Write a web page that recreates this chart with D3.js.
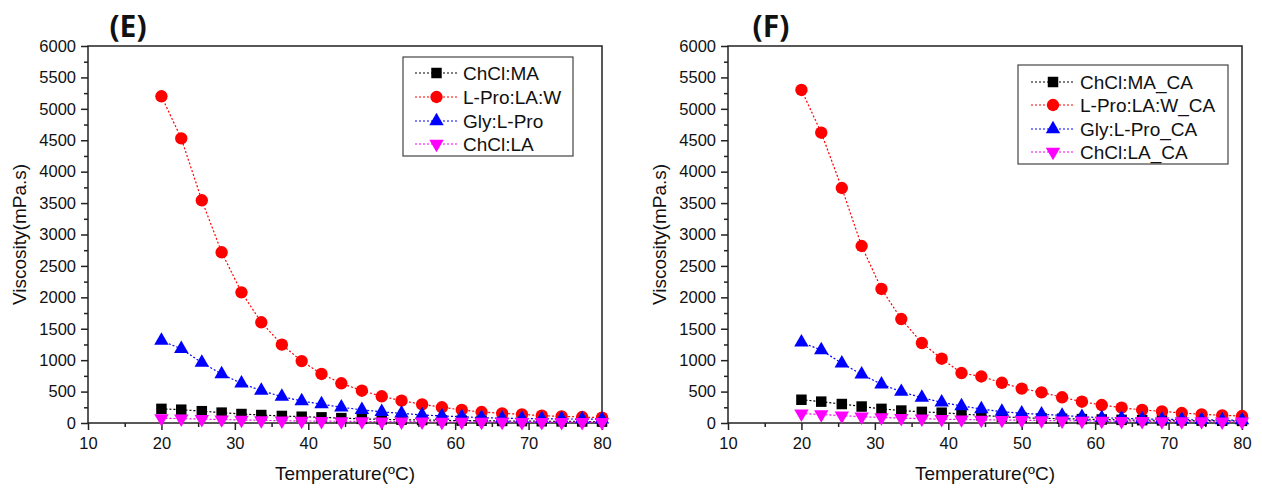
<!DOCTYPE html>
<html>
<head>
<meta charset="utf-8">
<script src="https://cdn.jsdelivr.net/npm/d3@7"></script>
<style>
  body { margin: 0; background: #fff; }
  text { font-family: Arial, "Liberation Sans", sans-serif; fill: #111; }
  .title { font-family: "Open Sans", sans-serif; font-weight: 700; }
</style>
</head>
<body>
<svg id="chart" width="1262" height="491"></svg>
<script>
// temperatures (ºC), same for every series
var temps = [20, 22.7, 25.5, 28.2, 30.9, 33.6, 36.4, 39.1, 41.8, 44.5, 47.3, 50,
             52.7, 55.5, 58.2, 60.9, 63.6, 66.4, 69.1, 71.8, 74.5, 77.3, 80];

// panel (E)
var chclMA   = [225, 212, 188, 165, 143, 127, 112, 100, 90, 78, 66, 58, 52, 47, 42, 38, 35, 32, 30, 28, 26, 24, 22];
var lproLAW  = [5200, 4530, 3545, 2717, 2080, 1603, 1247, 985, 780, 632, 514, 425, 355, 297, 250, 207, 175, 154, 138, 116, 106, 95, 84];
var glyLPro  = [1310, 1180, 960, 780, 630, 515, 420, 350, 300, 250, 210, 178, 154, 128, 112, 100, 85, 76, 72, 68, 65, 62, 60];
var chclLA   = [75, 70, 62, 55, 48, 42, 37, 33, 30, 27, 25, 23, 21, 20, 19, 18, 17, 16, 15, 15, 14, 14, 13];

// panel (F)
var chclMA_CA  = [370, 340, 302, 262, 225, 198, 177, 164, 143, 122, 100, 84, 75, 68, 62, 56, 50, 45, 42, 40, 38, 36, 34];
var lproLAW_CA = [5300, 4620, 3740, 2817, 2133, 1655, 1273, 1023, 795, 740, 640, 548, 488, 409, 339, 286, 244, 207, 186, 159, 138, 122, 111];
var glyLPro_CA = [1285, 1160, 950, 775, 616, 498, 403, 329, 271, 223, 180, 155, 138, 120, 100, 84, 75, 64, 59, 54, 50, 47, 45];
var chclLA_CA  = [150, 135, 118, 100, 88, 78, 68, 60, 55, 50, 47, 44, 40, 37, 34, 32, 30, 28, 26, 25, 24, 23, 22];

var xTicks = [10, 20, 30, 40, 50, 60, 70, 80];
var yTicks = d3.range(0, 6001, 500);

var styles = [
  {color: "#000000", symbol: d3.symbolSquare, size: 110, rot: 0},
  {color: "#ff0000", symbol: d3.symbolCircle, size: 120, rot: 0},
  {color: "#0000ff", symbol: d3.symbolTriangle, size: 90, rot: 0},
  {color: "#ff00ff", symbol: d3.symbolTriangle, size: 90, rot: 180}
];

var panels = [
  {title: "(E)", left: 88, right: 602, titleX: 128,
   legend: {x: 403, y: 57, w: 170, h: 99, lineX0: 415, lineX1: 458, textX: 463, rowY: [73, 97, 121, 144]},
   series: [
     {name: "ChCl:MA", values: chclMA},
     {name: "L-Pro:LA:W", values: lproLAW},
     {name: "Gly:L-Pro", values: glyLPro},
     {name: "ChCl:LA", values: chclLA}]},
  {title: "(F)", left: 728, right: 1242, titleX: 771,
   legend: {x: 1018, y: 65, w: 210, h: 99, lineX0: 1031, lineX1: 1075, textX: 1080, rowY: [82, 105, 129, 152]},
   series: [
     {name: "ChCl:MA_CA", values: chclMA_CA},
     {name: "L-Pro:LA:W_CA", values: lproLAW_CA},
     {name: "Gly:L-Pro_CA", values: glyLPro_CA},
     {name: "ChCl:LA_CA", values: chclLA_CA}]}
];

var plotTop = 46, plotBottom = 423;
var svg = d3.select("#chart");

panels.forEach(function(p) {
  var x = d3.scaleLinear().domain([10, 80]).range([p.left, p.right]);
  var y = d3.scaleLinear().domain([0, 6000]).range([plotBottom, plotTop]);
  var g = svg.append("g");

  // frame
  g.append("rect")
    .attr("x", p.left).attr("y", plotTop)
    .attr("width", p.right - p.left).attr("height", plotBottom - plotTop)
    .attr("fill", "none").attr("stroke", "#222").attr("stroke-width", 1.5);

  // minor ticks
  g.append("g").attr("transform", "translate(0," + plotBottom + ")")
    .call(d3.axisBottom(x).tickValues(d3.range(15, 80, 10)).tickSize(4).tickFormat(""))
    .call(a => a.select(".domain").remove());
  g.append("g").attr("transform", "translate(" + p.left + ",0)")
    .call(d3.axisLeft(y).tickValues(d3.range(250, 6000, 500)).tickSize(4).tickFormat(""))
    .call(a => a.select(".domain").remove());

  // major axes
  var xa = g.append("g").attr("transform", "translate(0," + plotBottom + ")")
    .call(d3.axisBottom(x).tickValues(xTicks).tickSize(7).tickPadding(7));
  var ya = g.append("g").attr("transform", "translate(" + p.left + ",0)")
    .call(d3.axisLeft(y).tickValues(yTicks).tickSize(7).tickPadding(5).tickFormat(d3.format("d")));
  [xa, ya].forEach(function(a) {
    a.select(".domain").remove();
    a.selectAll("text").style("font-size", "16.5px").attr("fill", "#111");
  });
  g.selectAll(".tick line").attr("stroke", "#222").attr("stroke-width", 1.5);

  // axis titles
  g.append("text")
    .attr("x", (p.left + p.right) / 2).attr("y", 480)
    .attr("text-anchor", "middle").style("font-size", "19px")
    .text("Temperature(ºC)");
  g.append("text")
    .attr("transform", "translate(" + (p.left - 62) + "," + ((plotTop + plotBottom) / 2) + ") rotate(-90)")
    .attr("text-anchor", "middle").style("font-size", "19px")
    .text("Viscosity(mPa.s)");

  // panel letter
  g.append("text").attr("class", "title")
    .attr("x", p.titleX).attr("y", 37)
    .attr("text-anchor", "middle").style("font-size", "30px")
    .text(p.title);

  var line = d3.line().x((d, i) => x(temps[i])).y(d => y(d));

  p.series.forEach(function(s, k) {
    var st = styles[k];
    g.append("path")
      .attr("d", line(s.values))
      .attr("fill", "none").attr("stroke", st.color)
      .attr("stroke-width", 1.2).attr("stroke-dasharray", "2,2");
    var sym = d3.symbol().type(st.symbol).size(st.size);
    g.selectAll(null)
      .data(s.values)
      .enter()
      .append("path")
      .attr("d", sym)
      .attr("transform", (d, i) => "translate(" + x(temps[i]) + "," + y(d) + ") rotate(" + st.rot + ")")
      .attr("fill", st.color);
  });

  // legend
  var L = p.legend;
  g.append("rect")
    .attr("x", L.x).attr("y", L.y).attr("width", L.w).attr("height", L.h)
    .attr("fill", "#fff").attr("stroke", "#444").attr("stroke-width", 1.2);
  p.series.forEach(function(s, k) {
    var st = styles[k], ry = L.rowY[k];
    g.append("line")
      .attr("x1", L.lineX0).attr("x2", L.lineX1).attr("y1", ry).attr("y2", ry)
      .attr("stroke", st.color).attr("stroke-width", 1.2).attr("stroke-dasharray", "2,2");
    g.append("path")
      .attr("d", d3.symbol().type(st.symbol).size(st.size)())
      .attr("transform", "translate(" + ((L.lineX0 + L.lineX1) / 2) + "," + ry + ") rotate(" + st.rot + ")")
      .attr("fill", st.color);
    g.append("text")
      .attr("x", L.textX).attr("y", ry).attr("dy", "0.36em")
      .style("font-size", "19px")
      .text(s.name);
  });
});
</script>
</body>
</html>
